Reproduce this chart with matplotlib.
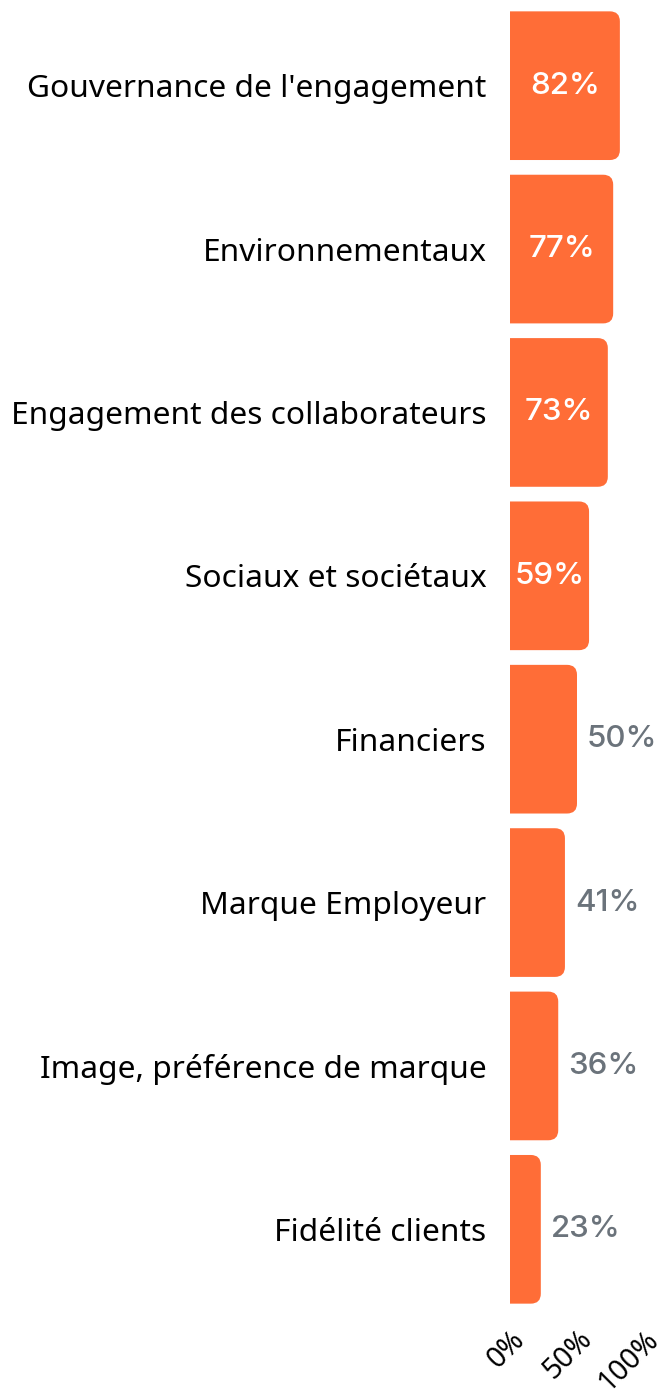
import matplotlib.pyplot as plt
from matplotlib.patches import FancyBboxPatch

categories = [
    "Gouvernance de l'engagement",
    "Environnementaux",
    "Engagement des collaborateurs",
    "Sociaux et sociétaux",
    "Financiers",
    "Marque Employeur",
    "Image, préférence de marque",
    "Fidélité clients",
]
values = [82, 77, 73, 59, 50, 41, 36, 23]
tick_values = [0, 50, 100]
tick_labels = ["0%", "50%", "100%"]

orange = '#FF6D37'
grey = '#6B737B'

W, H, dpi = 667, 1398, 100
fig = plt.figure(figsize=(W / dpi, H / dpi), dpi=dpi)

# axes placed in pixels: x 510..644, y 4..1311
ax = fig.add_axes([510 / W, (H - 1311) / H, 134 / W, 1307 / H])
ax.set_xlim(0, 100)
ax.set_ylim(len(values) - 0.5, -0.5)

px_x = 134 / 100.0
px_y = 1307 / len(values)
radius_px = 10
bar_h = 0.91

for i, v in enumerate(values):
    r = radius_px / px_x
    box = FancyBboxPatch((-r * 2, i - bar_h / 2), v + r * 2, bar_h,
                         boxstyle=f"round,pad=0,rounding_size={r}",
                         mutation_aspect=px_x / px_y,
                         facecolor=orange, edgecolor='none')
    ax.add_patch(box)
    if v >= 55:
        ax.text(v / 2, i, f"{v}%", ha='center', va='center', color='white',
                fontsize=22.5, family='Inter', fontweight='medium')
    else:
        ax.text(v + 10 / px_x, i, f"{v}%", ha='left', va='center', color=grey,
                fontsize=22.5, family='Inter', fontweight='medium', clip_on=False)

ax.set_yticks(range(len(categories)))
ax.set_yticklabels(categories, fontsize=22.8, family='Noto Sans')
ax.set_xticks(tick_values)
ax.set_xticklabels(tick_labels, fontsize=20.5, family='Noto Sans',
                   rotation=45, ha='right', va='top', rotation_mode='anchor')
ax.tick_params(axis='y', length=0, pad=17)
ax.tick_params(axis='x', length=0, pad=10)
for s in ax.spines.values():
    s.set_visible(False)

fig.savefig('out.png', dpi=dpi)
